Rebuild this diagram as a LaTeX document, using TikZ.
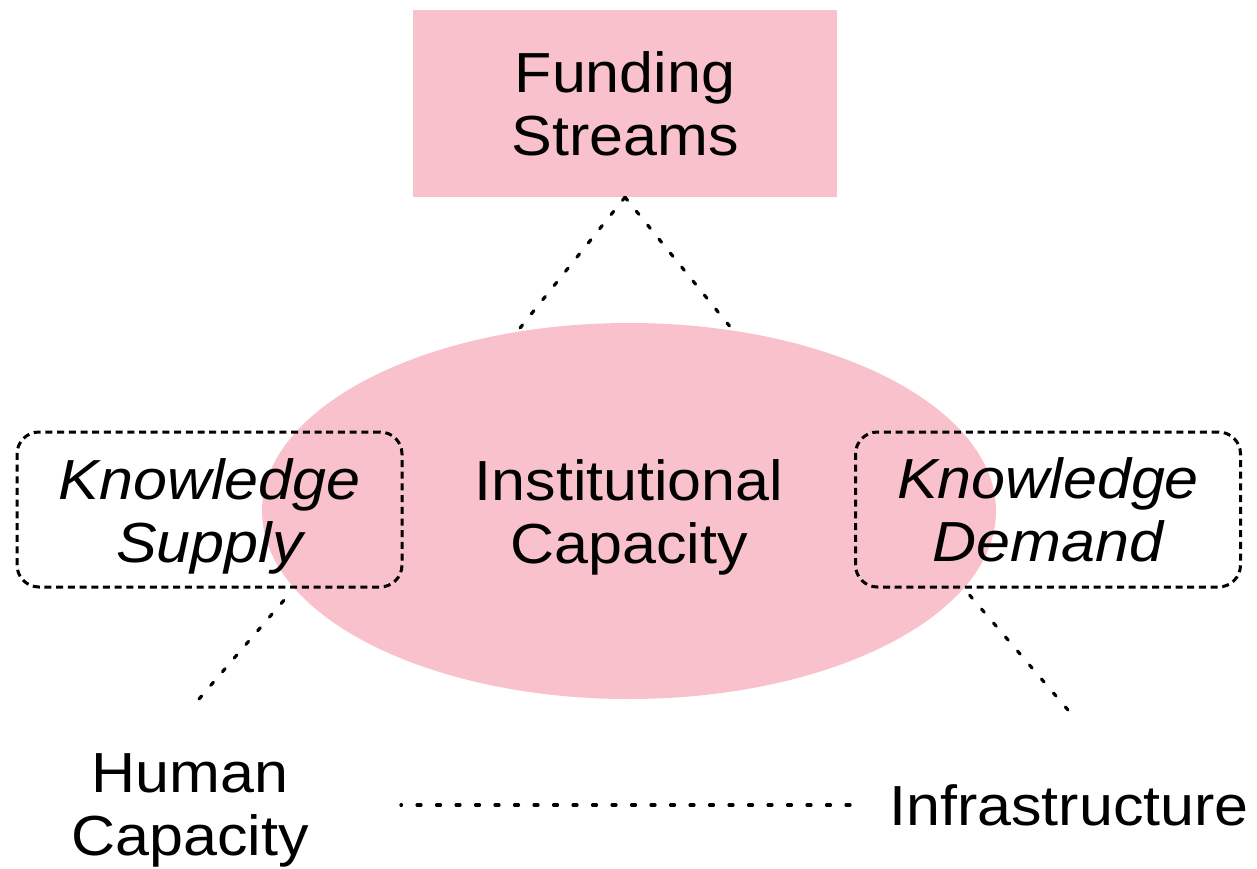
\documentclass[tikz,border=0pt]{standalone}
\usepackage{fontspec}
\setmainfont{Liberation Sans}[FakeStretch=1.08]
\usepackage{tikz}
\usetikzlibrary{shapes.geometric}
\definecolor{capink}{RGB}{249,193,203}
\newcommand{\kstrut}{\rule{0pt}{54pt}}
\tikzset{
    %Define style for all texts
    bigtext/.style={
           font=\fontsize{56.5}{63}\selectfont,
           align=center,
           inner sep=0pt},
    %Define style for boxes
    fundbox/.style={
           bigtext,
           rectangle,
           fill=capink,
           minimum width=424pt,
           minimum height=187pt},
    capacity/.style={
           bigtext,
           ellipse,
           fill=capink,
           minimum width=734pt,
           minimum height=376pt},
    knowbox/.style={
           bigtext,
           font=\fontsize{56.5}{63}\selectfont\itshape,
           rectangle,
           rounded corners=22pt,
           draw=black, line width=3pt,
           dash pattern=on 7pt off 4.7pt,
           minimum width=385pt,
           minimum height=155pt},
    % Define line style, gap given per line so it ends on a dot
    dotline/.style={
           -,
           line width=3.2pt,
           line cap=round,
           dash pattern=on 4pt off #1},
    dotline/.default=15pt
}
\begin{document}
\begin{tikzpicture}[x=1pt,y=-1pt]
\useasboundingbox (0,0) rectangle (1257,869);
 %nodes
\node[fundbox](fund) at (625,103.5){Funding\\Streams};
\node[capacity](inst) at (629,511){\kstrut Institutional\\Capacity};
\node[knowbox](supply) at (209.5,509.5){\kstrut Knowledge\\Supply};
\node[knowbox](demand) at (1048,509.5){Knowledge\\Demand};
\node[bigtext](hum) at (190,810){Human\\Capacity};
\node[bigtext](infra) at (1069,805){Infrastructure};
\coordinate (humtop) at (199,699);
\coordinate (infratop) at (1068,710);
\path[dotline]
    (fund.south) edge[dotline=14.2pt, shorten >=5pt] (inst.122)
    (fund.south) edge[dotline=14pt, shorten >=6pt] (inst.60)
    (inst.193) edge[dotline=14pt, shorten <=16pt] (humtop)
    (inst.347) edge[dotline=14.4pt, shorten <=9pt] (infratop)
    (infra.west) edge[dotline=15.5pt, shorten <=39pt, shorten >=92pt] (infra.west -| hum.east);
\end{tikzpicture}
\end{document}
